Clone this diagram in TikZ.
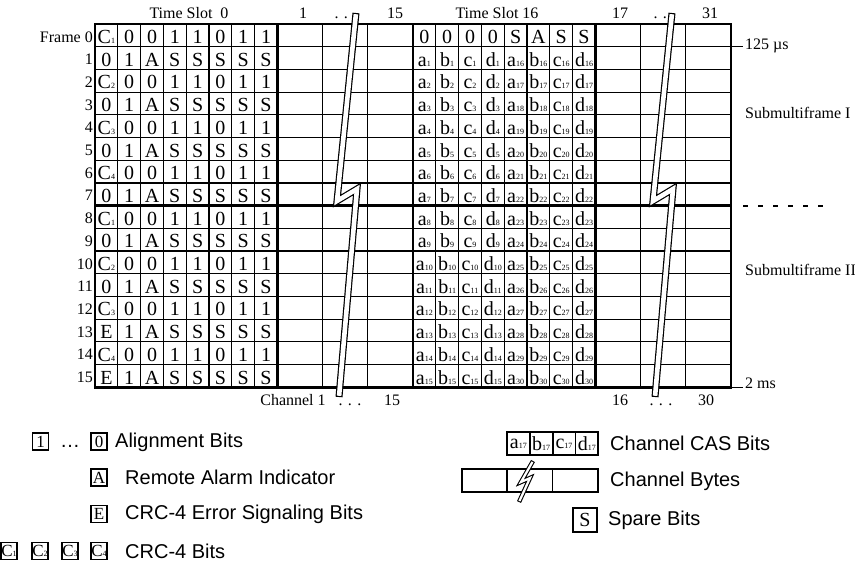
\documentclass[tikz,border=0pt]{standalone}
\usepackage{fontspec}
\setmainfont{Liberation Serif}
\newfontfamily\legendfont{Liberation Sans}
\usetikzlibrary{calc}
\tikzstyle{bit}=[inner sep=0pt,anchor=base,font=\fontsize{20}{20}\selectfont]
\tikzstyle{slotlabel}=[inner sep=0pt,anchor=base,font=\fontsize{16}{16}\selectfont]
\tikzstyle{thinline}=[line width=1.2pt]
\tikzstyle{thickline}=[line width=2.8pt]
\tikzstyle{legendbox}=[draw,line width=1.8pt,inner sep=0pt,minimum width=16pt,minimum height=17pt,font=\fontsize{17}{17}\selectfont]
\tikzstyle{casbox}=[draw,line width=1.8pt,inner sep=0pt,minimum width=22.8pt,minimum height=23pt,font=\fontsize{20}{20}\selectfont]
\tikzstyle{legendtext}=[inner sep=0pt,anchor=west,font=\legendfont\fontsize{20}{20}\selectfont]
\tikzstyle{boltout}=[line width=7pt,line join=miter]
\tikzstyle{boltin}=[white,line width=4.6pt,line join=miter,shorten <=1.2pt,shorten >=1.2pt]
\newcommand{\bitsub}[2]{#1{\fontsize{8}{8}\selectfont #2}}

\begin{document}
\begin{tikzpicture}[x=1pt,y=-1pt]
    \useasboundingbox (0,0) rectangle (855,566);
    % First the thin lines of the grid
    \foreach \r in {1,...,15}
        \draw[thinline] (95,{24+22.7*\r}) -- (731,{24+22.7*\r});
    \foreach \c in {1,...,7} {
        \draw[thinline] ({95+22.8*\c},24) -- ({95+22.8*\c},387.2);
        \draw[thinline] ({413+22.8*\c},24) -- ({413+22.8*\c},387.2);
    }
    \foreach \x in {322.6,367.8,640.6,685.8}
        \draw[thinline] (\x,24) -- (\x,387.2);
    % Then the thick borders
    \draw[thickline] (95,24) rectangle (731,387.2);
    \draw[thickline] (95,205.6) -- (731,205.6);
    \foreach \x in {277.4,413,595.4}
        \draw[thickline] (\x,24) -- (\x,387.2);

    % Time slot 0
    \foreach \r in {0,...,15} {
        \pgfmathtruncatemacro{\odd}{mod(\r,2)}
        \pgfmathtruncatemacro{\k}{mod(\r/2,4)+1}
        \pgfmathsetmacro{\yb}{24+22.7*\r+19.5}
        \ifnum\odd=0
            \def\bits{{\bitsub{C}{\k}},0,0,1,1,0,1,1}
        \else
            \ifnum\r>12 \def\bits{E,1,A,S,S,S,S,S}\else\def\bits{0,1,A,S,S,S,S,S}\fi
        \fi
        \foreach \b [count=\c from 0] in \bits
            \node[bit] (s0-\r-\c) at ({95+22.8*(\c+0.5)},\yb) {\b};
    }
    % Time slot 16
    \foreach \b [count=\c from 0] in {0,0,0,0,S,A,S,S}
        \node[bit] (s16-0-\c) at ({413+22.8*(\c+0.5)},43.5) {\b};
    \foreach \r in {1,...,15} {
        \pgfmathtruncatemacro{\m}{\r+15}
        \pgfmathsetmacro{\yb}{24+22.7*\r+19.5}
        \foreach \b [count=\c from 0] in {{\bitsub{a}{\r}},{\bitsub{b}{\r}},{\bitsub{c}{\r}},{\bitsub{d}{\r}},
                                           {\bitsub{a}{\m}},{\bitsub{b}{\m}},{\bitsub{c}{\m}},{\bitsub{d}{\m}}}
            \node[bit] (s16-\r-\c) at ({413+22.8*(\c+0.5)},\yb) {\b};
    }

    % Frame numbers
    \node[slotlabel,anchor=base east] (f0) at (93,42) {Frame 0};
    \foreach \r in {1,...,15}
        \node[slotlabel,anchor=base east] (f\r) at (93,{24+22.7*\r+18}) {\r};

    % Labels above and below
    \foreach \pos/\name/\txt in {{(189,18)/slot0/Time Slot\ \ 0}, {(303,18)/top1/1}, {(346,18)/topdots0/. . .},
                                 {(395,18)/top15/15}, {(497,18)/slot16/Time Slot 16}, {(620,18)/top17/17},
                                 {(665,18)/topdots1/. . .}, {(710,18)/top31/31},
                                 {(293,405)/chan1/Channel 1}, {(350,405)/botdots0/. . .}, {(392,405)/bot15/15},
                                 {(620,405)/bot16/16}, {(661,405)/botdots1/. . .}, {(706,405)/bot30/30}}
        \node[slotlabel] (\name) at \pos {\txt};

    % Right side
    \coordinate (t125a) at (731,46.7);
    \coordinate (t125b) at (743,46.7);
    \draw[thinline] (t125a) -- (t125b);
    \node[slotlabel,anchor=base west] (us125) at (745,49) {125 µs};
    \coordinate (t2a) at (731,387.2);
    \coordinate (t2b) at (743,387.2);
    \draw[thinline] (t2a) -- (t2b);
    \node[slotlabel,anchor=base west] (ms2) at (745,388) {2 ms};
    \coordinate (sepa) at (743,205.6);
    \coordinate (sepb) at (823,205.6);
    \draw[line width=2pt,dash pattern=on 5pt off 10pt] (sepa) -- (sepb);
    \node[slotlabel,anchor=base west] (sub1) at (745,118) {Submultiframe I};
    \node[slotlabel,anchor=base west] (sub2) at (745,275) {Submultiframe II};

    % Break marks
    \foreach \dx in {0,316} {
        \draw[boltout] (356+\dx,13) -- (337+\dx,201) -- (357+\dx,189) -- (339+\dx,397);
        \draw[boltin] (356+\dx,13) -- (337+\dx,201) -- (357+\dx,189) -- (339+\dx,397);
    }

    % Legend, left
    \node[legendbox] (lg1) at (40.5,441.5) {1};
    \node[inner sep=0pt,anchor=base,font=\legendfont\fontsize{20}{20}\selectfont] (lgdots) at (70,447) {…};
    \node[legendbox] (lg0) at (99,441.5) {0};
    \node[legendtext] (lgalign) at (115,442) {Alignment Bits};
    \node[legendbox] (lgA) at (99,477.5) {A};
    \node[legendtext] (lgrai) at (125,477.5) {Remote Alarm Indicator};
    \node[legendbox] (lgE) at (99,514) {E};
    \node[legendtext] (lgerr) at (125,514) {CRC-4 Error Signaling Bits};
    \foreach \x/\k in {9/1,40/2,70/3,99/4}
        \node[legendbox] (lgC\k) at (\x,551) {\bitsub{C}{\k}};
    \node[legendtext] (lgcrc) at (125,551) {CRC-4 Bits};

    % Legend, right
    \foreach \b [count=\c from 0] in {a,b,c,d}
        \node[casbox] (lgcas\c) at ({518.4+22.8*\c},443.5) {\bitsub{\b}{17}};
    \node[legendtext] (lgcastxt) at (610,443.5) {Channel CAS Bits};
    \foreach \c in {0,1,2}
        \node[casbox,minimum width=45.3pt] (lgbyte\c) at ({484.6+45.3*\c},480.5) {};
    \draw[line width=4.4pt,line join=miter] (533,461) -- (521,482) -- (530,478) -- (519,502);
    \draw[white,line width=2.2pt,line join=miter,shorten <=1.1pt,shorten >=1.1pt] (533,461) -- (521,482) -- (530,478) -- (519,502);
    \node[legendtext] (lgbytetxt) at (610,481) {Channel Bytes};
    \node[casbox,minimum width=24pt,minimum height=24pt] (lgS) at (585,520) {S};
    \node[legendtext] (lgspare) at (608,520) {Spare Bits};
\end{tikzpicture}
\end{document}
